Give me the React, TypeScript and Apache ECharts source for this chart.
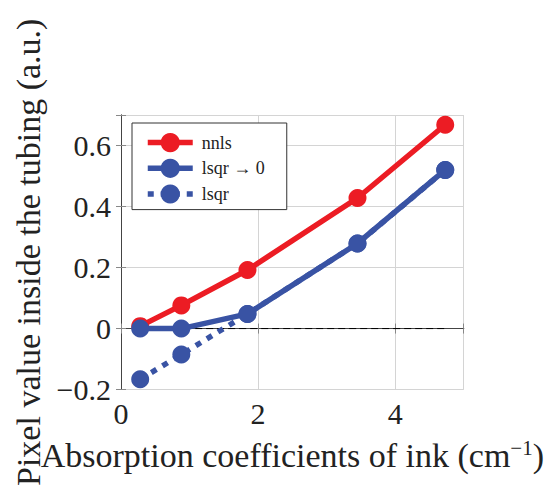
import React, { useEffect, useRef } from "react";
import * as echarts from "echarts";

const xValues = [0.28, 0.88, 1.845, 3.45, 4.73];
const nnls = [0.008, 0.076, 0.192, 0.428, 0.668];
const lsqrToZero = [0.0, 0.0, 0.048, 0.279, 0.52];
const lsqr = [-0.166, -0.085, 0.048, 0.279, 0.52];
const zeroLine = [
  [0.28, 0],
  [4.73, 0],
];
const seriesNames = ["nnls", "lsqr → 0", "lsqr"];

const RED = "#EC1C24";
const BLUE = "#3953A4";
const FONT = "'Liberation Serif', serif";

function pairs(ys: number[]) {
  return xValues.map((x, i) => [x, ys[i]]);
}

export default function App() {
  const ref = useRef<HTMLDivElement>(null);
  useEffect(() => {
    if (!ref.current) return;
    const chart = echarts.init(ref.current, undefined, { renderer: "svg" });
    const fmtY = (v: number) => {
      const r = Math.round(v * 10) / 10;
      if (Math.abs(r * 5 - Math.round(r * 5)) > 1e-6) return "";
      if (Math.abs(r) < 1e-9) return "0";
      return r < 0 ? "\u2212" + Math.abs(r).toFixed(1) : r.toFixed(1);
    };
    const fmtX = (v: number) => (v % 2 === 0 ? String(v) : "");
    const frame = { show: true, lineStyle: { color: "#444", width: 1 } };
    const ticks = { show: true, inside: true, length: 5, lineStyle: { color: "#888" } };
    const grid = { show: true, lineStyle: { color: "#d4d4d4", width: 1 } };
    chart.setOption({
      animation: false,
      backgroundColor: "#fff",
      grid: { left: 121, top: 115, right: 80, bottom: 96, containLabel: false },
      legend: {
        data: seriesNames,
        left: 132,
        top: 123,
        orient: "vertical",
        backgroundColor: "#fff",
        borderColor: "#333",
        borderWidth: 1,
        borderRadius: 0,
        padding: [10, 22, 6, 13],
        itemWidth: 45,
        itemHeight: 24,
        itemGap: 6.5,
        lineStyle: { width: 5.5 },
        textStyle: {
          fontFamily: FONT,
          fontSize: 18,
          color: "#222",
          padding: [0, 0, 0, 4],
        },
      },
      xAxis: [
        {
          type: "value",
          min: 0,
          max: 5,
          interval: 2,
          position: "bottom",
          axisLine: frame,
          axisTick: ticks,
          splitLine: grid,
          axisLabel: {
            formatter: fmtX,
            fontFamily: FONT,
            fontSize: 30,
            color: "#222",
            margin: 9,
          },
          name: "{a|Absorption coefficients of ink (cm}{s|\u22121}{a|)}",
          nameLocation: "middle",
          nameGap: 48,
          nameTextStyle: {
            rich: {
              a: { fontFamily: FONT, fontSize: 34, color: "#222", lineHeight: 36 },
              s: { fontFamily: FONT, fontSize: 21, color: "#222", verticalAlign: "top", lineHeight: 36 },
            },
          },
        },
        {
          type: "value",
          min: 0,
          max: 5,
          interval: 2,
          position: "top",
          axisLine: frame,
          axisTick: ticks,
          splitLine: { show: false },
          axisLabel: { show: false },
        },
      ],
      yAxis: [
        {
          type: "value",
          min: -0.2,
          max: 0.7,
          interval: 0.2,
          position: "left",
          axisLine: frame,
          axisTick: ticks,
          splitLine: grid,
          axisLabel: {
            formatter: fmtY,
            fontFamily: FONT,
            fontSize: 30,
            color: "#222",
            margin: 10,
          },
          name: "Pixel value inside the tubing (a.u.)",
          nameLocation: "middle",
          nameGap: 76,
          nameTextStyle: { fontFamily: FONT, fontSize: 34, color: "#222" },
        },
        {
          type: "value",
          min: -0.2,
          max: 0.7,
          interval: 0.2,
          position: "right",
          axisLine: frame,
          axisTick: ticks,
          splitLine: { show: false },
          axisLabel: { show: false },
        },
      ],
      series: [
        {
          name: "zero",
          type: "line",
          data: zeroLine,
          symbol: "none",
          lineStyle: { color: "#000", width: 1, type: [7, 4] },
          z: 1,
        },
        {
          name: seriesNames[0],
          type: "line",
          data: pairs(nnls),
          symbol: "circle",
          symbolSize: 18,
          itemStyle: { color: RED },
          lineStyle: { color: RED, width: 5.5 },
          z: 2,
        },
        {
          name: seriesNames[2],
          type: "line",
          data: pairs(lsqr),
          symbol: "circle",
          symbolSize: 18,
          itemStyle: { color: BLUE },
          lineStyle: { color: BLUE, width: 5.5, type: [6, 7] },
          z: 3,
        },
        {
          name: seriesNames[1],
          type: "line",
          data: pairs(lsqrToZero),
          symbol: "circle",
          symbolSize: 18,
          itemStyle: { color: BLUE },
          lineStyle: { color: BLUE, width: 5.5 },
          z: 4,
        },
      ],
    });
    return () => chart.dispose();
  }, []);
  return <div ref={ref} style={{ width: 547, height: 489, position: "absolute", left: 0, top: 0 }} />;
}
